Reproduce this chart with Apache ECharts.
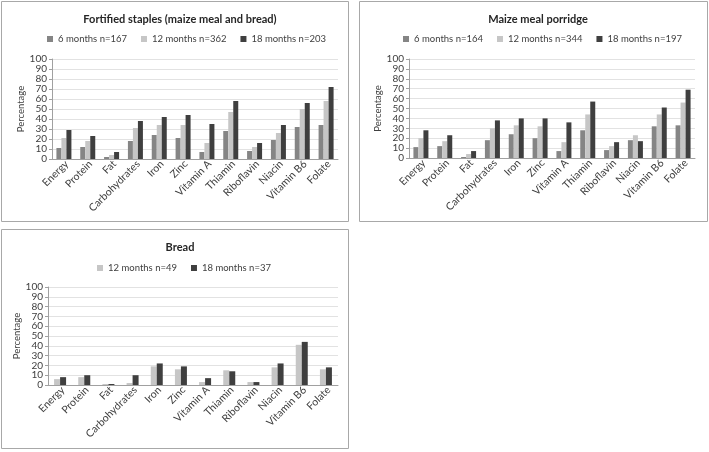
<!DOCTYPE html>
<html>
<head>
<meta charset="utf-8">
<script src="https://cdn.jsdelivr.net/npm/echarts@6/dist/echarts.min.js"></script>
<style>
html,body{margin:0;padding:0;background:#fff;}
#c{width:709px;height:452px;}
</style>
</head>
<body>
<div id="c"></div>
<script>
const categories = ['Energy','Protein','Fat','Carbohydrates','Iron','Zinc','Vitamin A','Thiamin','Riboflavin','Niacin','Vitamin B6','Folate'];
const yTicks = [0,10,20,30,40,50,60,70,80,90,100];

const titles = ['Fortified staples (maize meal and bread)','Maize meal porridge','Bread'];

const fortNames = ['6 months n=167','12 months n=362','18 months n=203'];
const fort6  = [11,12,2,18,24,21,7,28,8,19,32,34];
const fort12 = [21,18,4,31,34,34,16,47,12,26,50,58];
const fort18 = [29,23,7,38,42,44,35,58,16,34,56,72];

const maizeNames = ['6 months n=164','12 months n=344','18 months n=197'];
const maize6  = [11,12,1,18,24,20,7,28,8,18,32,33];
const maize12 = [20,17,4,30,33,32,16,44,12,23,44,56];
const maize18 = [28,23,7,38,40,40,36,57,16,17,51,69];

const breadNames = ['12 months n=49','18 months n=37'];
const bread12 = [6,8,1,2,19,16,3,15,3,18,41,16];
const bread18 = [8,10,1,10,22,19,7,14,3,22,44,18];

const C6 = '#858585', C12 = '#c6c6c6', C18 = '#3f3f3f';
const FONT = 'Lato';

const grids = [
  {left:52, top:59, width:286, height:100},
  {left:409, top:59, width:286, height:99},
  {left:48, top:287, width:290, height:98}
];

function xAxis(i){
  return {
    type:'category', gridIndex:i, data:categories,
    axisLine:{lineStyle:{color:'#a0a0a0'}},
    axisTick:{show:false},
    axisLabel:{rotate:45, interval:0, fontFamily:FONT, fontSize:10.5, color:'#404040', margin:6, padding:[0,-4,0,0]}
  };
}
function yAxis(i){
  return {
    type:'value', gridIndex:i, min:yTicks[0], max:yTicks[yTicks.length-1], interval:yTicks[1]-yTicks[0],
    name:'Percentage', nameLocation:'middle', nameGap:25,
    nameTextStyle:{fontFamily:FONT, fontSize:9.5, color:'#404040'},
    axisLine:{show:true, lineStyle:{color:'#a0a0a0'}},
    axisTick:{show:true, length:3, lineStyle:{color:'#a0a0a0'}},
    axisLabel:{fontFamily:FONT, fontSize:10, color:'#404040', margin:5, showMinLabel:true, showMaxLabel:true, hideOverlap:false},
    splitLine:{lineStyle:{color:'#e2e2e2', width:1}}
  };
}
function bar(name, data, color, i, w){
  return {
    type:'bar', name:name, data:data, xAxisIndex:i, yAxisIndex:i,
    barWidth:w, barGap:'0%', itemStyle:{color:color}, silent:true
  };
}
function legend(names, left, top){
  return {data:names, left:left, top:top, itemWidth:6, itemHeight:6, itemGap:14, icon:'rect',
    textStyle:{fontFamily:FONT, fontSize:9.5, color:'#404040'}};
}

const option = {
  animation:false,
  graphic:[
    {type:'rect', shape:{x:1.5, y:1.5, width:347, height:220}, style:{fill:'none', stroke:'#a8a8a8', lineWidth:1}},
    {type:'rect', shape:{x:359.5, y:1.5, width:348, height:220}, style:{fill:'none', stroke:'#a8a8a8', lineWidth:1}},
    {type:'rect', shape:{x:1.5, y:229.5, width:347, height:219}, style:{fill:'none', stroke:'#a8a8a8', lineWidth:1}}
  ],
  title:[
    {text:titles[0], left:175, top:9, textAlign:'center', textStyle:{fontFamily:FONT, fontSize:11, fontWeight:'bold', color:'#262626'}},
    {text:titles[1], left:533, top:9, textAlign:'center', textStyle:{fontFamily:FONT, fontSize:11, fontWeight:'bold', color:'#262626'}},
    {text:titles[2], left:175, top:237, textAlign:'center', textStyle:{fontFamily:FONT, fontSize:11, fontWeight:'bold', color:'#262626'}}
  ],
  legend:[
    legend(fortNames, 42, 29),
    legend(maizeNames, 398, 29),
    legend(breadNames, 92, 258)
  ],
  grid:grids,
  xAxis:[xAxis(0), xAxis(1), xAxis(2)],
  yAxis:[yAxis(0), yAxis(1), yAxis(2)],
  series:[
    bar(fortNames[0], fort6, C6, 0, 5),
    bar(fortNames[1], fort12, C12, 0, 5),
    bar(fortNames[2], fort18, C18, 0, 5),
    bar(maizeNames[0], maize6, C6, 1, 5),
    bar(maizeNames[1], maize12, C12, 1, 5),
    bar(maizeNames[2], maize18, C18, 1, 5),
    bar(breadNames[0], bread12, C12, 2, 6),
    bar(breadNames[1], bread18, C18, 2, 6)
  ]
};
echarts.init(document.getElementById('c'), null, {renderer:'canvas'}).setOption(option);
</script>
</body>
</html>
